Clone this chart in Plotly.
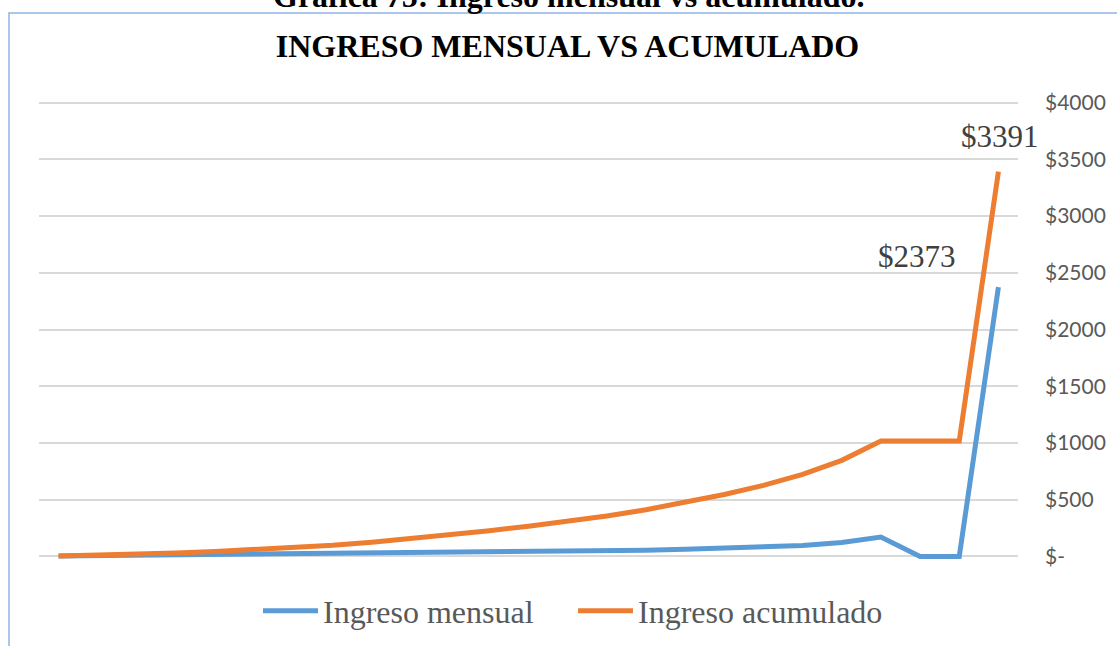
import plotly.graph_objects as go

months = list(range(1, 26))
ingreso_mensual = [4, 7, 9, 11, 13, 15, 18, 21, 27, 31, 34, 37, 40, 43, 47,
                   55, 63, 71, 80, 97, 124, 171, 0, 0, 2373]
ingreso_acumulado = [4, 11, 20, 31, 44, 59, 77, 98, 125, 156, 190, 227, 267, 310, 357,
                     412, 475, 546, 626, 723, 847, 1018, 1018, 1018, 3391]
tick_vals = [0, 500, 1000, 1500, 2000, 2500, 3000, 3500, 4000]
tick_text = ["$-", "$500", "$1000", "$1500", "$2000", "$2500", "$3000", "$3500", "$4000"]

W, H = 1117, 646
L, R, T, B = 39, 99, 98, 85
ph = H - T - B
pw = W - L - R

def py(p):  # pixel y -> paper y
    return (H - B - p) / ph

def px(p):  # pixel x -> paper x
    return (p - L) / pw

serif = "Liberation Serif, Times New Roman, serif"

fig = go.Figure()
fig.add_trace(go.Scatter(x=months, y=ingreso_mensual, mode="lines", name="Ingreso mensual",
                         line=dict(color="#5B9BD5", width=5)))
fig.add_trace(go.Scatter(x=months, y=ingreso_acumulado, mode="lines", name="Ingreso acumulado",
                         line=dict(color="#ED7D31", width=5)))

fig.update_layout(
    width=W, height=H,
    margin=dict(l=L, r=R, t=T, b=B),
    paper_bgcolor="white", plot_bgcolor="white",
    title=dict(text="<b>INGRESO MENSUAL VS ACUMULADO</b>", xref="container", x=567.5 / W,
               xanchor="center", yref="container", y=1 - 46 / H, yanchor="middle",
               font=dict(family=serif, size=32, color="black")),
    showlegend=True,
    legend=dict(orientation="h", xref="container", x=573 / W, xanchor="center",
                yref="container", y=1 - 611 / H, yanchor="middle",
                font=dict(family=serif, size=32, color="#595959"),
                itemwidth=55, entrywidth=245, entrywidthmode="pixels", tracegroupgap=0),
    xaxis=dict(range=[0.5, 25.5], showgrid=False, showticklabels=False, zeroline=False,
               showline=False, ticks=""),
    yaxis=dict(range=[-40, 4040], side="right", tickvals=tick_vals, ticktext=tick_text,
               showgrid=True, gridcolor="#D9D9D9", gridwidth=1.5, zeroline=False,
               showline=False, ticks="", ticklabelstandoff=26,
               tickfont=dict(family="Lato, Carlito, Calibri, sans-serif", size=21, color="#595959")),
    annotations=[
        dict(text="<b>Grafica 75: Ingreso mensual vs acumulado.</b>", xref="paper", yref="paper",
             x=px(568.5), y=py(-4), xanchor="center", yanchor="middle", showarrow=False,
             font=dict(family=serif, size=32, color="black")),
        dict(text="$" + str(ingreso_acumulado[-1]), x=months[-1], y=ingreso_acumulado[-1],
             xref="x", yref="y", xanchor="center", yanchor="middle", xshift=2, yshift=35,
             showarrow=False, font=dict(family=serif, size=31, color="#404040")),
        dict(text="$" + str(ingreso_mensual[-1]), x=months[-1], y=ingreso_mensual[-1],
             xref="x", yref="y", xanchor="right", yanchor="middle", xshift=-40, yshift=31,
             showarrow=False, font=dict(family=serif, size=31, color="#404040")),
    ],
    shapes=[
        dict(type="rect", xref="paper", yref="paper", x0=px(9), x1=px(1130), y0=py(660), y1=py(13),
             line=dict(color="#8FB4E3", width=1.5), fillcolor="rgba(0,0,0,0)", layer="below"),
    ],
)

fig.write_html("out.html", config={"displayModeBar": False},
               post_script="document.body.style.margin='0';document.documentElement.style.overflow='hidden';")
